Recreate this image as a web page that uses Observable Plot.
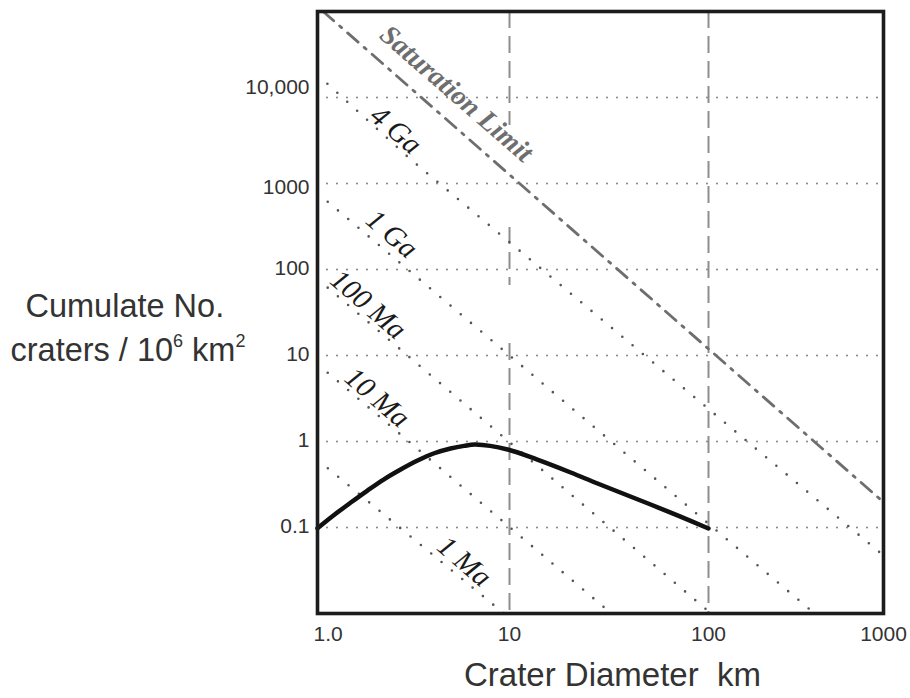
<!DOCTYPE html>
<html><head><meta charset="utf-8">
<script src="https://cdn.jsdelivr.net/npm/d3@7"></script>
<script src="https://cdn.jsdelivr.net/npm/@observablehq/plot@0.6"></script>
<style>body{margin:0;background:#fff}</style>
</head><body><div id="chart"></div>
<script>
// ---- Axis ticks and labels ----
const xTicks = [1, 10, 100, 1000];
const xTickLabels = ["1.0", "10", "100", "1000"];
const yTicks = [0.1, 1, 10, 100, 1000, 10000];
const yTickLabels = ["0.1", "1", "10", "100", "1000", "10,000"];
const xTitle = "Crater Diameter\u00a0 km";
const yTitleLine1 = "Cumulate No.";
const yTitleLine2Parts = [["craters / 10", false], ["6", true], [" km", false], ["2", true]];

// ---- Observed crater size-frequency curve (D km, N per 10^6 km^2) ----
const curveD = [1, 1.21, 1.49, 1.82, 2.21, 2.71, 3.32, 4.02, 4.93, 5.8, 6.65, 9.77, 13.8, 20.3, 27.7, 51.2, 72.3, 100];
const curveN = [0.098, 0.138, 0.195, 0.269, 0.361, 0.472, 0.60, 0.725, 0.829, 0.89, 0.92, 0.807, 0.615, 0.436, 0.325, 0.185, 0.134, 0.0975];

// ---- Saturation limit ----
const saturationD = [1.07, 1000];
const saturationN = [100000, 0.197];

// ---- Isochrons ----
const iso4GaD = [1, 3.02, 1000];
const iso4GaN = [18400, 1950, 0.0472];
const iso1GaD = [1, 404];
const iso1GaN = [773, 0.01];
const iso100MaD = [1, 100];
const iso100MaN = [77.6, 0.0106];
const iso10MaD = [1, 32.5];
const iso10MaN = [7.96, 0.01];
const iso1MaD = [1, 9.36];
const iso1MaN = [0.614, 0.01];

// ---- Line labels ----
const isoLabels = ["4 Ga", "1 Ga", "100 Ma", "10 Ma", "1 Ma"];
const isoLabelD = [2.56, 2.44, 1.84, 2.05, 5.83];
const isoLabelN = [4190, 259, 39.2, 3.25, 0.0403];
const satLabel = "Saturation Limit";
const satLabelD = 5.30;
const satLabelN = 11130;

// ---- Vertical dashed reference lines (segments) ----
const vLineD = [10, 10, 10, 100];
const vLineTop = [100000, 308, 13.8, 100000];
const vLineBottom = [4720, 65.2, 0.01, 0.01];

// ---- Build tables ----
const rows = (D, N, extra = {}) => D.map((d, i) => ({D: d, N: N[i], ...extra}));
const curveRows = rows(curveD, curveN);
const satRows = rows(saturationD, saturationN);
const isoRows = [
  ...rows(iso4GaD, iso4GaN, {name: "4 Ga"}),
  ...rows(iso1GaD, iso1GaN, {name: "1 Ga"}),
  ...rows(iso100MaD, iso100MaN, {name: "100 Ma"}),
  ...rows(iso10MaD, iso10MaN, {name: "10 Ma"}),
  ...rows(iso1MaD, iso1MaN, {name: "1 Ma"})
];
const isoLabelRows = isoLabels.map((t, i) => ({t, D: isoLabelD[i], N: isoLabelN[i]}));
const satLabelRows = [{t: satLabel, D: satLabelD, N: satLabelN}];
const vRows = vLineD.map((d, i) => ({D: d, top: vLineTop[i], bottom: vLineBottom[i]}));
const yTitle2Plain = yTitleLine2Parts.map(p => p[0]).join("");

const fmtX = d => xTickLabels[xTicks.indexOf(d)];
const fmtY = d => yTickLabels[yTicks.indexOf(d)];
const axisStyle = {tickSize: 0, label: null, fontSize: 21};
const serif = "'Liberation Serif', 'Times New Roman', Times, serif";

const chart = Plot.plot({
  width: 910,
  height: 698,
  marginLeft: 317,
  marginRight: 27,
  marginTop: 11,
  marginBottom: 85,
  style: {fontFamily: "'Liberation Sans', Arial, Helvetica, sans-serif", fontSize: "21px", background: "#fff", color: "#333"},
  x: {type: "log", domain: xTicks, range: [317, 509, 708, 883], label: null},
  y: {type: "log", domain: [0.01, 100000], label: null},
  marks: [
    Plot.ruleY(yTicks, {stroke: "#888", strokeWidth: 2.1, strokeDasharray: "0,10", strokeLinecap: "round"}),
    Plot.ruleX(vRows, {x: "D", y1: "top", y2: "bottom", stroke: "#8e8e8e", strokeWidth: 2, strokeDasharray: "17,8"}),
    Plot.line(isoRows, {x: "D", y: "N", z: "name", stroke: "#555", strokeWidth: 2.6, strokeDasharray: "0,13.4", strokeLinecap: "round"}),
    Plot.line(satRows, {x: "D", y: "N", stroke: "#6e6e6e", strokeWidth: 2.8, strokeDasharray: "14,8,2.5,8"}),
    Plot.line(curveRows, {x: "D", y: "N", curve: "catmull-rom", stroke: "#111", strokeWidth: 4.5}),
    Plot.text(isoLabelRows, {x: "D", y: "N", text: "t", rotate: 41, fontFamily: serif, fontStyle: "italic", fontSize: 29, fill: "#1a1a1a"}),
    Plot.text(satLabelRows, {x: "D", y: "N", text: "t", rotate: 41, fontFamily: serif, fontStyle: "italic", fontWeight: "bold", fontSize: 28, fill: "#6e6e6e"}),
    Plot.axisX([xTicks[0]], {...axisStyle, tickPadding: 13, tickFormat: fmtX, textAnchor: "start", dx: -4}),
    Plot.axisX(xTicks.slice(1), {...axisStyle, tickPadding: 13, tickFormat: fmtX}),
    Plot.axisY(yTicks.slice(0, 4), {...axisStyle, tickPadding: 8, tickFormat: fmtY, dy: -1}),
    Plot.axisY([yTicks[4]], {...axisStyle, tickPadding: 8, tickFormat: fmtY, dy: 4}),
    Plot.axisY([yTicks[5]], {...axisStyle, tickPadding: 8, tickFormat: fmtY, dy: -10}),
    Plot.text([xTitle], {text: d => d, frameAnchor: "bottom", lineAnchor: "bottom", dx: 12, dy: 72, fontSize: 33, fill: "#333"}),
    Plot.text([yTitleLine1], {text: d => d, frameAnchor: "left", textAnchor: "start", lineAnchor: "bottom", dx: -292, dy: 4, fontSize: 32.5, fill: "#333"}),
    Plot.text([yTitle2Plain], {text: d => d, frameAnchor: "left", textAnchor: "start", lineAnchor: "bottom", dx: -307, dy: 48, fontSize: 32.5, fill: "#333"}),
    Plot.frame({stroke: "#1c1c1c", strokeWidth: 3.6})
  ]
});

// tick label size via inline style on the tick texts
const tickSet = new Set([...xTickLabels, ...yTickLabels]);
d3.select(chart).selectAll("text").filter(function() { return tickSet.has(this.textContent); })
  .style("font-size", "21px");

// superscripts in the y title
d3.select(chart).selectAll("text").filter(function() { return this.textContent === yTitle2Plain; }).each(function() {
  const t = d3.select(this);
  t.text(null);
  let raised = false;
  for (const [s, sup] of yTitleLine2Parts) {
    const ts = t.append("tspan").text(s);
    if (sup && !raised) { ts.attr("font-size", 18).attr("dy", -14); raised = true; }
    else if (!sup && raised) { ts.attr("dy", 14); raised = false; }
    else if (sup && raised) { ts.attr("font-size", 18); }
  }
});

document.getElementById("chart").append(chart);
</script>
</body></html>
